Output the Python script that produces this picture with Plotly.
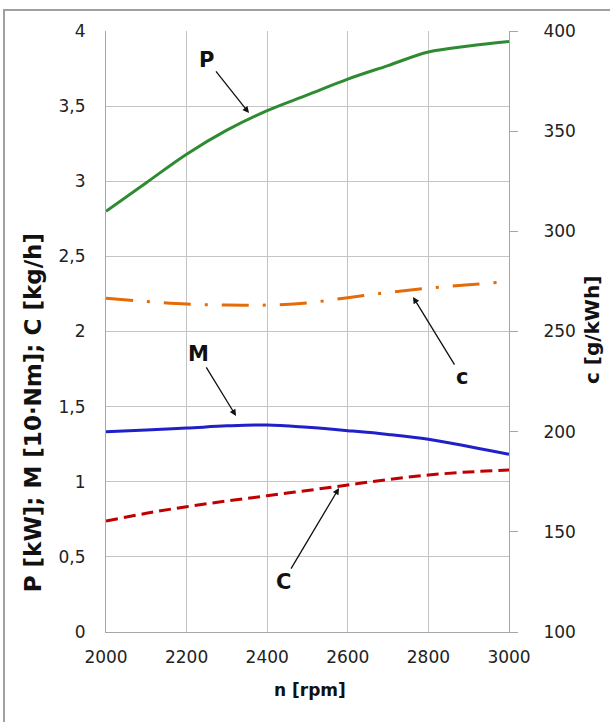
import plotly.graph_objects as go

# ---- data ----
n_rpm = [2000, 2100, 2200, 2300, 2400, 2500, 2600, 2700, 2800, 2900, 3000]
P_kW = [2.80, 2.99, 3.18, 3.34, 3.47, 3.575, 3.68, 3.77, 3.86, 3.90, 3.93]
M_10Nm = [1.333, 1.345, 1.357, 1.372, 1.378, 1.362, 1.340, 1.315, 1.283, 1.235, 1.183]
C_kgh = [0.739, 0.790, 0.834, 0.872, 0.907, 0.942, 0.978, 1.015, 1.045, 1.065, 1.078]
c_gkWh = [266.6, 265.0, 263.7, 263.2, 263.2, 264.3, 266.9, 269.5, 271.6, 273.3, 274.9]

x_ticks = [2000, 2200, 2400, 2600, 2800, 3000]
y_left_ticks = [0, 0.5, 1, 1.5, 2, 2.5, 3, 3.5, 4]
y_left_text = ["0", "0,5", "1", "1,5", "2", "2,5", "3", "3,5", "4"]
y_right_ticks = [100, 150, 200, 250, 300, 350, 400]

FONT = "DejaVu Sans"
GRID = "#c4c4c4"
AXIS = "#a6a6a6"

fig = go.Figure()
fig.add_trace(go.Scatter(x=n_rpm, y=P_kW, mode="lines", line=dict(color="#2e8b32", width=3, shape="spline"), name="P"))
fig.add_trace(go.Scatter(x=n_rpm, y=M_10Nm, mode="lines", line=dict(color="#2020c8", width=3, shape="spline"), name="M"))
fig.add_trace(go.Scatter(x=n_rpm, y=C_kgh, mode="lines", line=dict(color="#c00000", width=3, shape="spline", dash="12px,6px"), name="C"))
fig.add_trace(go.Scatter(x=n_rpm, y=c_gkWh, mode="lines", yaxis="y2",
                         line=dict(color="#e36c09", width=3, shape="spline", dash="27px,14px,3px,14px"), name="c"))

# labels with arrows: (text, tip x, tip y, dx, dy)
labels = [
    ("P", 2354.8, 3.454, -42, -53),
    ("M", 2322.6, 1.438, -38, -62),
    ("c", 2761.8, 2.230, 49, 80),
    ("C", 2578.2, 0.958, -56, 94),
]
ann = []
for t, xt, yt, dx, dy in labels:
    ann.append(dict(text=f"<b>{t}</b>", x=xt, y=yt, xref="x", yref="y", ax=dx, ay=dy,
                    showarrow=True, arrowhead=2, arrowsize=1, arrowwidth=1.3, arrowcolor="#111",
                    standoff=0, font=dict(family=FONT, size=21, color="#111")))

ann.append(dict(text="<b>P [kW]; M [10·Nm]; C [kg/h]</b>", x=-0.181, y=0.364, xref="paper", yref="paper",
                xanchor="center", yanchor="middle",
                textangle=-90, showarrow=False, font=dict(family=FONT, size=23, color="#111")))
ann.append(dict(text="<b>c [g/kWh]</b>", x=1.206, y=0.5025, xref="paper", yref="paper",
                xanchor="center", yanchor="middle",
                textangle=-90, showarrow=False, font=dict(family=FONT, size=20, color="#111")))
ann.append(dict(text="<b>n [rpm]</b>", x=0.506, y=-0.0965, xref="paper", yref="paper",
                xanchor="center", yanchor="middle",
                showarrow=False, font=dict(family=FONT, size=17, color="#111")))

fig.update_layout(
    width=610, height=722,
    margin=dict(l=106, r=101, t=31, b=90),
    paper_bgcolor="white", plot_bgcolor="white",
    showlegend=False,
    font=dict(family=FONT, size=17, color="#222"),
    annotations=ann,
    xaxis=dict(range=[2000, 3000], tickvals=x_ticks, showgrid=True, gridcolor=GRID, gridwidth=1,
               showline=True, linecolor=AXIS, linewidth=1, zeroline=False, ticks="",
               ticklabelstandoff=10, tickfont=dict(family=FONT, size=17, color="#222")),
    yaxis=dict(range=[0, 4], tickvals=y_left_ticks, ticktext=y_left_text, showgrid=True, gridcolor=GRID,
               gridwidth=1, showline=True, linecolor=AXIS, linewidth=1, zeroline=False, ticks="",
               ticklabelstandoff=16, tickfont=dict(family=FONT, size=17, color="#222")),
    yaxis2=dict(range=[100, 400], tickvals=y_right_ticks, overlaying="y", side="right", showgrid=False,
                showline=True, linecolor=AXIS, linewidth=1, zeroline=False, ticks="outside", ticklen=8,
                tickcolor=AXIS, ticklabelstandoff=22, tickfont=dict(family=FONT, size=17, color="#222")),
    shapes=[dict(type="rect", xref="paper", yref="paper", x0=-0.2531, x1=1.35, y0=-0.25, y1=1.0349,
                 line=dict(color="#a0a0a0", width=2), fillcolor="rgba(0,0,0,0)", layer="below")],
)

fig.write_html("out.html", config={"displayModeBar": False},
               post_script="document.body.style.margin='0';")
